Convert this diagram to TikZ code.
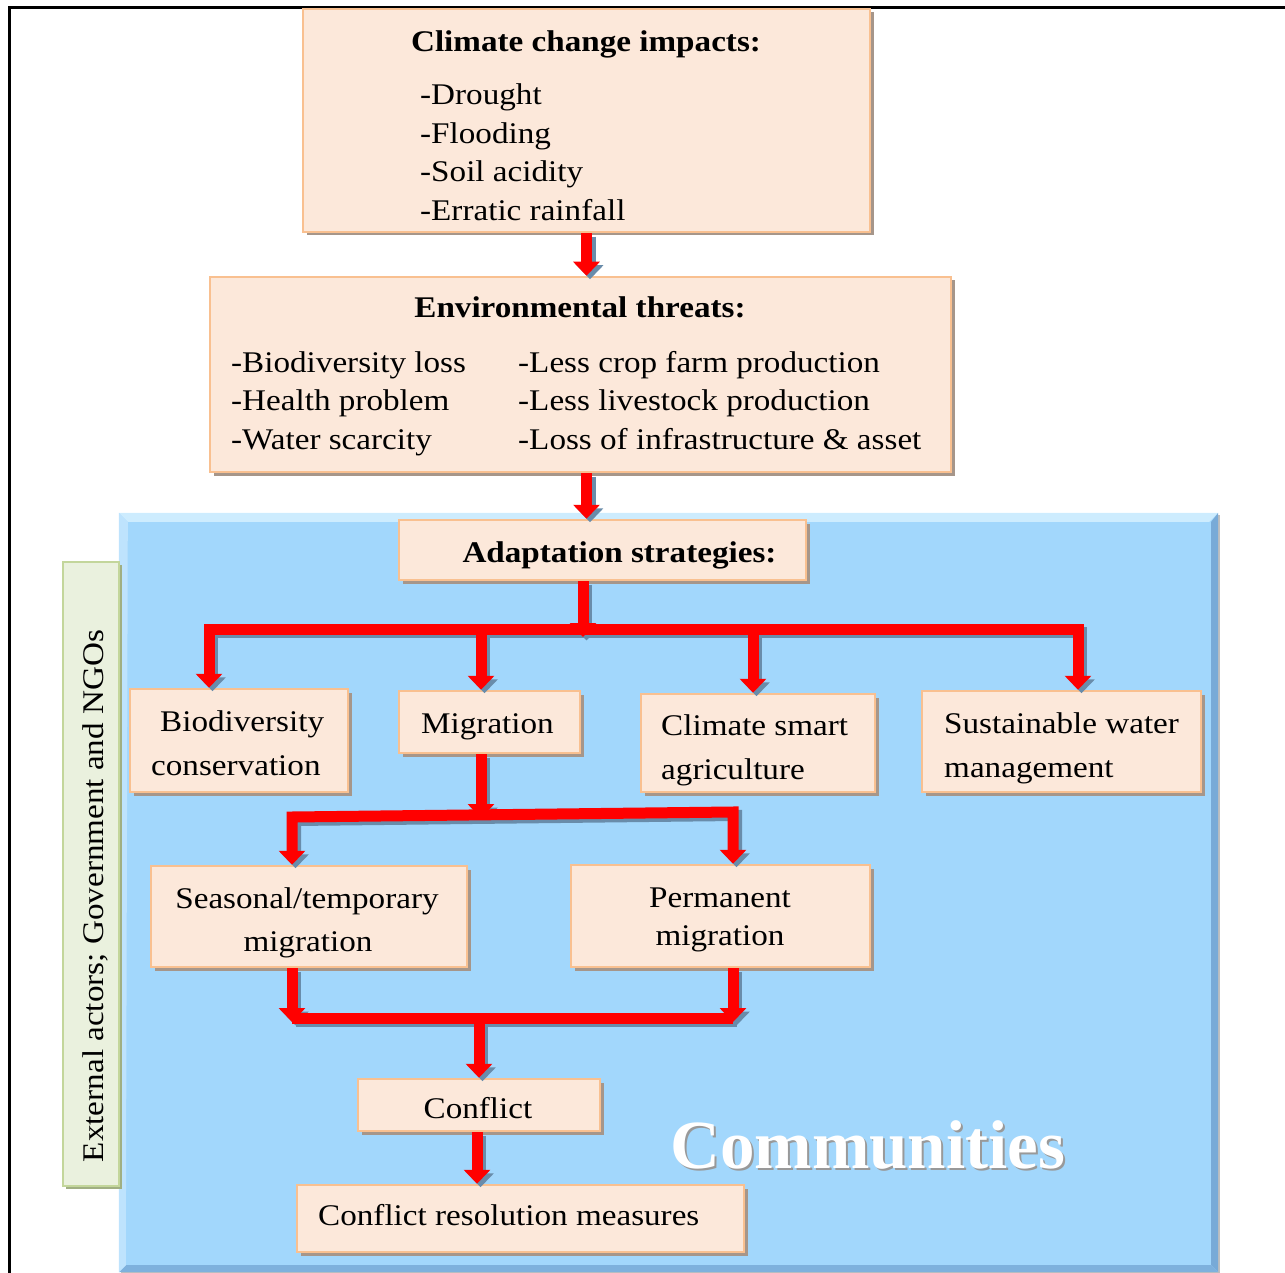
\documentclass[tikz,border=0pt]{standalone}
\usepackage{fontspec}
\setmainfont[FakeStretch=1.105]{Liberation Serif}
\newfontfamily\comfont{Liberation Serif}
\usetikzlibrary{arrows.meta,calc,shadows}
\definecolor{boxfill}{RGB}{252,232,218}
\definecolor{boxline}{RGB}{249,192,144}
\definecolor{boxshadow}{RGB}{166,150,138}
\definecolor{bluefill}{RGB}{162,215,252}
\definecolor{bluelight}{RGB}{205,236,254}
\definecolor{bluedark}{RGB}{120,170,215}
\definecolor{greenfill}{RGB}{234,241,222}
\definecolor{greenline}{RGB}{195,214,155}
\definecolor{greenshadow}{RGB}{160,175,130}
\definecolor{arrshadow}{RGB}{105,140,170}
\colorlet{acol}{red}
\begin{document}
\begin{tikzpicture}[x=1pt,y=-1pt,
  font=\fontsize{30}{38.5}\selectfont,
  box/.style={draw=boxline, line width=2.5pt, fill=boxfill, inner sep=0pt,
    general shadow={shadow xshift=3.5pt, shadow yshift=-3.5pt, fill=boxshadow}},
  tx/.style={inner sep=0pt, anchor=base west},
  txc/.style={inner sep=0pt, anchor=base},
  redarr/.style={draw=acol, line width=11pt, -{Triangle[width=26pt,length=14pt]}},
  redline/.style={draw=acol, line width=11pt},
  redboth/.style={draw=acol, line width=11pt, {Triangle[width=26pt,length=14pt]}-{Triangle[width=26pt,length=14pt]}},
]
\useasboundingbox (0,0) rectangle (1285,1273);
% frame
\draw[line width=3pt] (9,1273) -- (9,8) -- (1285,8);

% blue communities area
\node[fill=bluefill, minimum width=1099pt, minimum height=759pt, inner sep=0pt,
  general shadow={shadow xshift=2pt, shadow yshift=-2pt, fill=black!25}] (blue) at (668.5,892.5) {};
\fill[bluelight] (blue.north west) -- (blue.north east) -- ($(blue.north east)+(-9,9)$) -- ($(blue.north west)+(9,9)$) -- cycle;
\fill[bluedark] (blue.north east) -- (blue.south east) -- ($(blue.south east)+(-7,-7)$) -- ($(blue.north east)+(-7,9)$) -- cycle;
\fill[bluedark!85!bluefill] (blue.south west) -- (blue.south east) -- ($(blue.south east)+(-7,-7)$) -- ($(blue.south west)+(7,-7)$) -- cycle;
\fill[bluefill!70!white] (blue.north west) -- (blue.south west) -- ($(blue.south west)+(7,-7)$) -- ($(blue.north west)+(9,9)$) -- cycle;

% side box
\node[draw=greenline, line width=2.5pt, fill=greenfill, minimum width=56pt, minimum height=624pt, inner sep=0pt,
  general shadow={shadow xshift=3pt, shadow yshift=-3pt, fill=greenshadow}] (ext) at (91,874) {};
\node[inner sep=0pt, rotate=90] (extt) at (95,896) {External actors; Government and NGOs};

% boxes
\node[box, minimum width=567pt, minimum height=223pt] (cci) at (586.5,120.5) {};
\node[box, minimum width=741pt, minimum height=195pt] (env) at (580.5,374.5) {};
\node[box, minimum width=407pt, minimum height=60pt] (adapt) at (602.5,550) {};
\node[box, minimum width=218pt, minimum height=103pt] (bio) at (239,740.5) {};
\node[box, minimum width=181pt, minimum height=62pt] (mig) at (489.5,722) {};
\node[box, minimum width=234pt, minimum height=98pt] (csa) at (758,743) {};
\node[box, minimum width=279pt, minimum height=101pt] (swm) at (1061.5,741.5) {};
\node[box, minimum width=316pt, minimum height=101pt] (seas) at (309,916.5) {};
\node[box, minimum width=299pt, minimum height=102pt] (perm) at (720.5,916) {};
\node[box, minimum width=242pt, minimum height=52pt] (conf) at (479,1105) {};
\node[box, minimum width=447pt, minimum height=67pt] (cres) at (520.5,1218.5) {};

% texts
\node[txc] (t1) at (586,52) {\bfseries Climate change impacts:};
\node[tx] (t2) at (420,105) {-Drought};
\node[tx] (t3) at (420,143.5) {-Flooding};
\node[tx] (t4) at (420,182) {-Soil acidity};
\node[tx] (t5) at (420,220.5) {-Erratic rainfall};

\node[txc] (e0) at (580,318) {\bfseries Environmental threats:};
\node[tx] (e1) at (231,372) {-Biodiversity loss};
\node[tx] (e2) at (231,410.5) {-Health problem};
\node[tx] (e3) at (231,449) {-Water scarcity};
\node[tx] (e4) at (518,372) {-Less crop farm production};
\node[tx] (e5) at (518,410.5) {-Less livestock production};
\node[tx] (e6) at (518,449) {-Loss of infrastructure \& asset};

\node[txc] (a0) at (619.5,562) {\bfseries Adaptation strategies:};
\node[tx] (b1) at (160,731) {Biodiversity};
\node[tx] (b2) at (151,775) {conservation};
\node[tx] (m1) at (421,733) {Migration};
\node[tx] (c1) at (661,735) {Climate smart};
\node[tx] (c2) at (661,779) {agriculture};
\node[tx] (s1) at (944,733) {Sustainable water};
\node[tx] (s2) at (944,777) {management};
\node[txc] (p1) at (307,908) {Seasonal/temporary};
\node[txc] (p2) at (308,951) {migration};
\node[txc] (q1) at (720,907) {Permanent};
\node[txc] (q2) at (720,945) {migration};
\node[txc] (k1) at (478,1118) {Conflict};
\node[tx] (k2) at (318,1225) {Conflict resolution measures};

\node[tx, text=black!40] (comsh) at (672,1170) {\comfont\fontsize{69}{69}\selectfont\bfseries Communities};
\node[tx, text=white] (com) at (670,1168) {\comfont\fontsize{69}{69}\selectfont\bfseries Communities};

% junction coordinates
\coordinate (j1) at (583,629);
\coordinate (busL) at (209,629);
\coordinate (busR) at (1078,629);
\coordinate (j2) at (481,814);
\coordinate (bus2L) at (292,817);
\coordinate (bus2R) at (733,812);
\coordinate (bus3L) at (292,1018);
\coordinate (bus3R) at (733,1018);
\coordinate (j3) at (479,1018);

% connectors: shadows first, then red
\foreach \c/\dx in {arrshadow/3.5, red/0}{
\colorlet{acol}{\c}
\begin{scope}[transform canvas={xshift=\dx pt, yshift=-\dx pt}]
\draw[redarr] (cci.south) -- (cci.south |- env.north);
\draw[redarr] (cci.south |- env.south) -- (cci.south |- adapt.north);
\draw[redboth] (busL |- bio.north) -- (busL) -- (busR) -- (busR |- swm.north);
\draw[redarr] (j1 |- adapt.south) -- ($(j1)+(0,8)$);
\draw[redarr] ($(j1 -| mig.north)+(-8.5,0)$) -- ($(mig.north)+(-8.5,0)$);
\draw[redarr] ($(j1 -| csa.north)+(-5,0)$) -- ($(csa.north)+(-5,0)$);
\draw[redboth] (bus2L |- seas.north) -- (bus2L) -- (bus2R) -- (bus2R |- perm.north);
\draw[redarr] (j2 |- mig.south) -- ($(j2)+(0,4)$);
\draw[redarr] (bus3L |- seas.south) -- ($(bus3L)+(0,4)$);
\draw[redarr] (bus3R |- perm.south) -- ($(bus3R)+(0,4)$);
\draw[redline] (bus3L) -- (bus3R);
\draw[redarr] (j3) -- (j3 |- conf.north);
\draw[redarr] ($(conf.south)+(-2,0)$) -- ($(cres.north -| conf.south)+(-2,0)$);
\end{scope}
}
\end{tikzpicture}
\end{document}
